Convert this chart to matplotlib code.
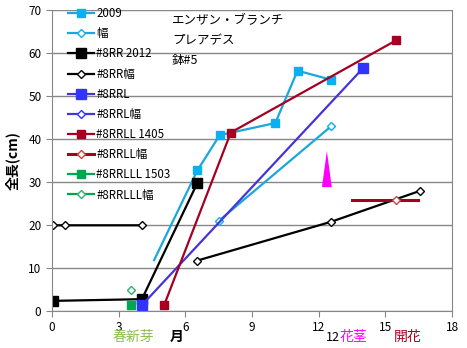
import numpy as np
import matplotlib.pyplot as plt
from matplotlib.ticker import MultipleLocator

plt.rcParams['font.family'] = ['Noto Sans CJK JP', 'DejaVu Sans']

# 2009 shoot (first point has no marker)
x_2009 = [4.6, 6.55, 7.55, 10.05, 11.05, 12.55]
y_2009 = [11.8, 32.7, 40.9, 43.7, 55.9, 53.8]
x_2009w = [7.5, 12.55]
y_2009w = [20.9, 42.9]

# #8RR
x_rr = [0.05, 4.05, 6.55]
y_rr = [2.3, 2.7, 29.8]
x_rrw = [0.03, 0.6, 4.05, np.nan, 6.55, 12.55, 16.55]
y_rrw = [19.9, 19.9, 19.9, np.nan, 11.7, 20.7, 27.9]

# #8RRL
x_rrl = [4.05, 14.0]
y_rrl = [1.3, 56.5]

# #8RRLL
x_rrll = [5.05, 8.05, 15.5]
y_rrll = [1.3, 41.5, 63.0]
x_rrllw = [13.5, 15.5, 16.45]
y_rrllw = [25.8, 25.8, 25.8]

# #8RRLLL
x_rrlll = [3.55]
y_rrlll = [1.3]
x_rrlllw = [3.55]
y_rrlllw = [4.8]

# flower stalk spike
stalk_x = 12.37
stalk_half_width = 0.22
stalk_bottom = 28.8
stalk_top = 37.2

fig = plt.figure(figsize=(4.67, 3.48), dpi=100)
ax = fig.add_axes([0.111, 0.107, 0.857, 0.864])

cyan_l, cyan_m = '#1BA7DB', '#0AB0F0'
blue_l, blue_m = '#4535D6', '#3333FF'
red = '#A50021'
green = '#00A650'

h = []
h += ax.plot(x_2009, y_2009, color=cyan_l, lw=1.6, marker='s', ms=6,
             mfc=cyan_m, mec=cyan_m, markevery=[1, 2, 3, 4, 5], label='2009')
h += ax.plot(x_2009w, y_2009w, color=cyan_l, lw=1.6, marker='D', ms=4.5,
             mfc='white', mec=cyan_m, label='幅')
h += ax.plot(x_rr, y_rr, color='black', lw=1.6, marker='s', ms=6.5,
             label='#8RR 2012')
h += ax.plot(x_rrw, y_rrw, color='black', lw=1.6, marker='D', ms=4.5,
             mfc='white', mec='black', label='#8RR幅')
h += ax.plot(x_rrl, y_rrl, color=blue_l, lw=1.6, marker='s', ms=6.5,
             mfc=blue_m, mec=blue_m, label='#8RRL')
h += ax.plot([], [], color=blue_l, lw=1.6, marker='D', ms=4.5,
             mfc='white', mec=blue_m, label='#8RRL幅')
h += ax.plot(x_rrll, y_rrll, color=red, lw=1.6, marker='s', ms=6,
             label='#8RRLL 1405')
h += ax.plot(x_rrllw, y_rrllw, color=red, lw=2.2, marker='D', ms=4.5,
             mfc='white', mec='#D04040', markevery=[1], label='#8RRLL幅')
h += ax.plot(x_rrlll, y_rrlll, color=green, lw=1.6, marker='s', ms=6,
             label='#8RRLLL 1503')
h += ax.plot(x_rrlllw, y_rrlllw, color=green, lw=1.6, marker='D', ms=4.5,
             mfc='white', mec='#30B070', label='#8RRLLL幅')

ax.fill([stalk_x - stalk_half_width, stalk_x, stalk_x + stalk_half_width],
        [stalk_bottom, stalk_top, stalk_bottom], color='#FF00FF', lw=0)

ax.set_xlim(0, 18)
ax.set_ylim(0, 70)
ax.xaxis.set_major_locator(MultipleLocator(3))
ax.yaxis.set_major_locator(MultipleLocator(10))
ax.grid(axis='y', color='#878787', lw=1)
ax.set_axisbelow(True)
for s in ax.spines.values():
    s.set_color('#878787')
ax.spines['top'].set_visible(False)
ax.tick_params(colors='#878787', labelcolor='black', labelsize=8.5, length=4)

ax.set_ylabel('全長(cm)', fontsize=10, fontweight='bold', labelpad=6)

leg = ax.legend(handles=h, loc='upper left', bbox_to_anchor=(0.03, 1.025),
                frameon=False, fontsize=8.3, handlelength=2.2,
                handletextpad=0.2, labelspacing=0.62, borderaxespad=0)

ax.text(0.30, 0.985, 'エンザン・ブランチ\nプレアデス\n鉢#5', transform=ax.transAxes,
        fontsize=9, va='top', ha='left', linespacing=1.65)

# month labels under the axis
ty = -0.088
xt = ax.get_xaxis_transform()
ax.text(3.67, ty, '春新芽', transform=xt, color='#8DBE4E',
        fontsize=10, ha='center', va='center')
ax.text(5.6, ty, '月', transform=xt, color='black',
        fontsize=10, fontweight='bold', ha='center', va='center')
ax.text(12.95, ty, '12', transform=xt, color='black',
        fontsize=9, ha='right', va='center')
ax.text(12.95, ty, '花茎', transform=xt, color='#FF00FF',
        fontsize=10, ha='left', va='center')
ax.text(16.0, ty, '開花', transform=xt, color=red,
        fontsize=10, ha='center', va='center')

fig.savefig('out.png', dpi=100)
